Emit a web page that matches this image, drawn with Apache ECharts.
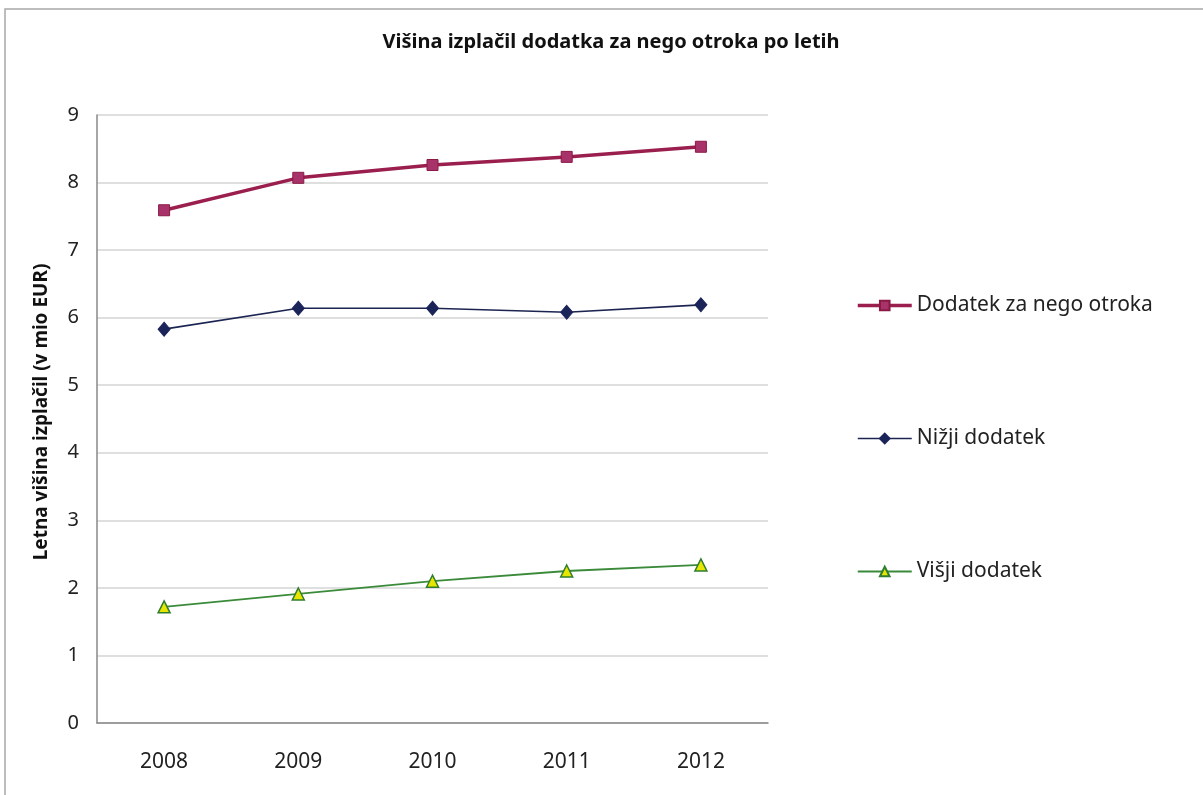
<!DOCTYPE html>
<html><head><meta charset="utf-8">
<script src="https://cdn.jsdelivr.net/npm/echarts@6/dist/echarts.min.js"></script>
<style>html,body{margin:0;padding:0;background:#fff}#c{width:1203px;height:795px}</style>
</head><body><div id="c"></div>
<script>
const years = ['2008','2009','2010','2011','2012'];
const nego = [7.59, 8.07, 8.26, 8.38, 8.53];
const nizji = [5.83, 6.14, 6.14, 6.08, 6.19];
const visji = [1.72, 1.91, 2.10, 2.25, 2.34];
const seriesNames = ['Dodatek za nego otroka', 'Nižji dodatek', 'Višji dodatek'];
const titleText = 'Višina izplačil dodatka za nego otroka po letih';
const yName = 'Letna višina izplačil (v mio EUR)';

const chart = echarts.init(document.getElementById('c'), null, {renderer:'canvas'});
const F = 'Noto Sans';
const lineWidths = [3.5, 1.6, 1.8];
chart.setOption({
  animation:false,
  backgroundColor:'#fff',
  graphic:[{type:'rect',shape:{x:5,y:9,width:1200,height:790},style:{fill:'none',stroke:'#a8a8a8',lineWidth:1.5},silent:true}],
  title:{text:titleText,left:606,top:27,textAlign:'center',textStyle:{fontFamily:F,fontWeight:'bold',fontSize:20,color:'#111'}},
  grid:{left:97,right:435,top:115,bottom:72},
  legend:{orient:'vertical',left:851,top:290,itemGap:112,itemWidth:54,itemHeight:12,
    textStyle:{fontFamily:F,fontSize:21,color:'#222'},
    data:seriesNames.map((n,i)=>({name:n,lineStyle:{width:lineWidths[i]}}))},
  xAxis:{type:'category',data:years,boundaryGap:true,
    axisLine:{lineStyle:{color:'#888',width:1.5}},axisTick:{show:false},
    axisLabel:{fontFamily:F,fontSize:21,color:'#222',margin:29}},
  yAxis:{type:'value',min:0,max:9,interval:1,name:yName,nameLocation:'middle',nameGap:46,
    nameTextStyle:{fontFamily:F,fontWeight:'bold',fontSize:19,color:'#111',padding:[0,0,0,14]},
    axisLine:{show:true,lineStyle:{color:'#888',width:1.5}},axisTick:{show:false},
    axisLabel:{fontFamily:F,fontSize:20,color:'#222',margin:18},
    splitLine:{lineStyle:{color:'#d4d4d4',width:1.5}}},
  series:[
    {name:seriesNames[0],type:'line',data:nego,symbol:'rect',symbolSize:11,
      lineStyle:{color:'#9b1f4e',width:lineWidths[0]},itemStyle:{color:'#a8336a',borderColor:'#8a1a45',borderWidth:1}},
    {name:seriesNames[1],type:'line',data:nizji,symbol:'diamond',symbolSize:[12,14],
      lineStyle:{color:'#1c2552',width:lineWidths[1]},itemStyle:{color:'#1a2458',borderColor:'#1a2458',borderWidth:1}},
    {name:seriesNames[2],type:'line',data:visji,symbol:'triangle',symbolSize:12,
      lineStyle:{color:'#3a8a3a',width:lineWidths[2]},itemStyle:{color:'#e6e600',borderColor:'#2f7d2f',borderWidth:1.5}}
  ]
});
</script></body></html>
